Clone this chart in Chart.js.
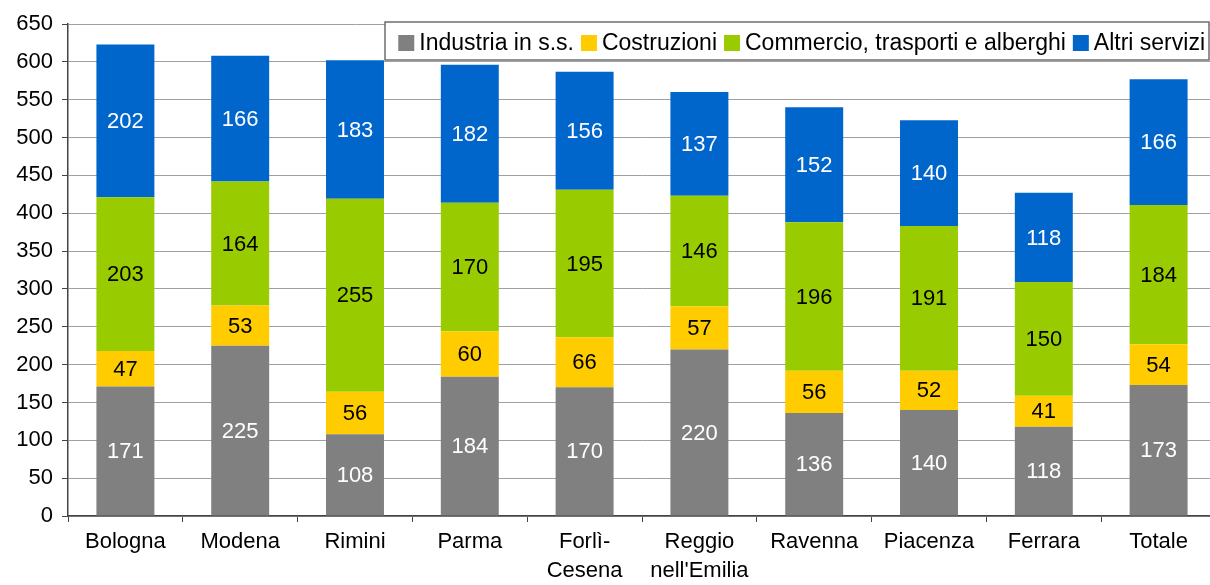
<!DOCTYPE html>
<html>
<head>
<meta charset="utf-8">
<script src="https://cdn.jsdelivr.net/npm/chart.js@4"></script>
<style>
  html, body { margin: 0; padding: 0; background: #fff; overflow: hidden; }
  #wrap { width: 1216px; height: 585px; position: relative; }
</style>
</head>
<body>
<div id="wrap"><canvas id="chart"></canvas></div>
<script>
// dati
const categorie = ['Bologna', 'Modena', 'Rimini', 'Parma', ['Forlì-', 'Cesena'], ['Reggio', "nell'Emilia"], 'Ravenna', 'Piacenza', 'Ferrara', 'Totale'];
const industria = [171, 225, 108, 184, 170, 220, 136, 140, 118, 173];
const costruzioni = [47, 53, 56, 60, 66, 57, 56, 52, 41, 54];
const commercio = [203, 164, 255, 170, 195, 146, 196, 191, 150, 184];
const altriServizi = [202, 166, 183, 182, 156, 137, 152, 140, 118, 166];
const tickY = [0, 50, 100, 150, 200, 250, 300, 350, 400, 450, 500, 550, 600, 650];

const FONT = 'Liberation Sans, Arial, sans-serif';

// etichette dei valori dentro ogni segmento
const etichette = {
  id: 'etichette',
  afterDatasetsDraw(chart) {
    const ctx = chart.ctx;
    ctx.save();
    ctx.font = '22px ' + FONT;
    ctx.textAlign = 'center';
    ctx.textBaseline = 'middle';
    chart.data.datasets.forEach((ds, i) => {
      const meta = chart.getDatasetMeta(i);
      meta.data.forEach((bar, j) => {
        const p = bar.getProps(['x', 'y', 'base'], true);
        ctx.fillStyle = ds.labelColor;
        ctx.fillText(String(ds.data[j]), p.x, (p.y + p.base) / 2 + 1);
      });
    });
    ctx.restore();
  }
};

// legenda dentro un riquadro in alto a destra
const legenda = {
  id: 'legenda',
  afterDraw(chart) {
    const ctx = chart.ctx;
    const ds = chart.data.datasets;
    ctx.save();
    ctx.font = '23px ' + FONT;
    const left = 385, top = 22, right = 1209, bottom = 60;
    ctx.fillStyle = '#fff';
    ctx.fillRect(left, top, right - left, bottom - top);
    ctx.strokeStyle = '#6e6e6e';
    ctx.lineWidth = 1.5;
    ctx.strokeRect(left, top, right - left, bottom - top);
    let x = right - 4;
    const cy = 43;
    ctx.textBaseline = 'middle';
    ctx.textAlign = 'left';
    for (let i = ds.length - 1; i >= 0; i--) {
      const w = ctx.measureText(ds[i].label).width;
      x -= w;
      ctx.fillStyle = '#000';
      ctx.fillText(ds[i].label, x, cy + 1);
      x -= 21;
      ctx.fillStyle = ds[i].backgroundColor;
      ctx.fillRect(x, cy - 8, 16, 16);
      x -= 7;
    }
    ctx.restore();
  }
};

const ctx = document.getElementById('chart').getContext('2d');
new Chart(ctx, {
  type: 'bar',
  data: {
    labels: categorie,
    datasets: [
      { label: 'Industria in s.s.', data: industria, backgroundColor: '#808080', labelColor: '#ffffff' },
      { label: 'Costruzioni', data: costruzioni, backgroundColor: '#ffcc00', labelColor: '#000000' },
      { label: 'Commercio, trasporti e alberghi', data: commercio, backgroundColor: '#99cc00', labelColor: '#000000' },
      { label: 'Altri servizi', data: altriServizi, backgroundColor: '#0066cc', labelColor: '#ffffff' }
    ]
  },
  options: {
    responsive: true,
    maintainAspectRatio: false,
    animation: false,
    datasets: { bar: { categoryPercentage: 1, barPercentage: 0.505 } },
    layout: { padding: { top: 24, right: 0, left: 0, bottom: 0 } },
    plugins: {
      legend: { display: false },
      tooltip: { enabled: false }
    },
    scales: {
      x: {
        stacked: true,
        grid: { offset: true, drawOnChartArea: false, drawTicks: true, tickLength: 6, color: '#444' },
        border: { color: '#444', width: 1.5 },
        ticks: { color: '#000', font: { family: FONT, size: 22, lineHeight: 1.32 }, padding: 5, maxRotation: 0, autoSkip: false },
        afterFit(scale) { scale.height = 69; }
      },
      y: {
        stacked: true,
        min: 0,
        max: 650,
        afterBuildTicks(scale) { scale.ticks = tickY.map(v => ({ value: v })); },
        grid: { color: '#a0a0a0', lineWidth: 1, tickLength: 6, tickColor: '#444' },
        border: { color: '#444', width: 1.5 },
        ticks: { color: '#000', font: { family: FONT, size: 22 }, padding: 9 },
        afterFit(scale) { scale.width = 68; }
      }
    }
  },
  plugins: [etichette, legenda]
});
</script>
</body>
</html>
